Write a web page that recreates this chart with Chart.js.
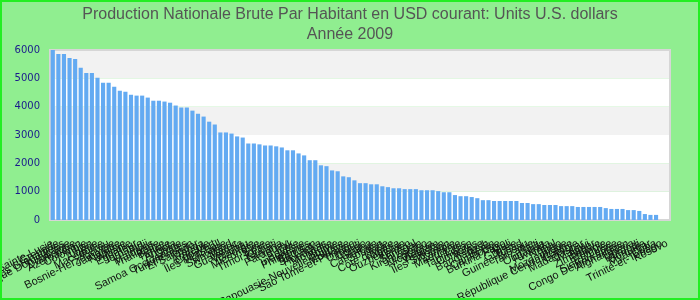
<!DOCTYPE html>
<html>
<head>
<meta charset="utf-8">
<script src="https://cdn.jsdelivr.net/npm/chart.js"></script>
<style>
    html, body { margin: 0; padding: 0; }
    .chart-box {
        width: 700px;
        height: 300px;
        box-sizing: border-box;
        border: 2px solid #22ee22;
        background: #90ee90;
        position: relative;
    }
</style>
</head>
<body>
<div class="chart-box"><canvas id="gnpChart"></canvas></div>
<script>
// Pays (triés par valeur décroissante)
const countries = [
    'Sainte-Lucie', 'Grenade', 'Saint-Vincent-et-les Grenadines', 'République Dominicaine', 'Dominique',
    'Azerbaïdjan', 'Colombie', 'Iran', 'Algérie', 'Macédoine',
    'Pérou', 'Bosnie-Herzégovine', 'Jamaïque', 'Namibie', 'Albanie',
    'Équateur', 'Jordanie', 'Fidji', 'Maldives', 'Thaïlande',
    'Belize', 'Tunisie', 'Angola', 'Chine', 'Samoa Occidentales',
    'Turkménistan', 'El Salvador', 'Tonga', 'Arménie', 'Cap-Vert',
    'Îles Marshall', 'Ukraine', 'Swaziland', 'Maroc', 'Guatemala',
    'Vanuatu', 'Géorgie', 'Micronésie', 'Syrie', 'Timor-Leste',
    'Kiribati', 'Guyana', 'Paraguay', 'Irak', 'Égypte',
    'Indonésie', 'Philippines', 'Bhoutan', 'Sri Lanka', 'Honduras',
    'Mongolie', 'Bolivie', 'Papouasie-Nouvelle-Guinée', 'Moldavie', 'Sao Tomé-et-Principe',
    'Djibouti', 'Congo', 'Ghana', 'Cameroun', 'Soudan',
    'Inde', "Côte d'Ivoire", 'Nigéria', 'Ouzbékistan', 'Yémen',
    'Sénégal', 'Kirghizistan', 'Lesotho', 'Nicaragua', 'Vietnam',
    'Pakistan', 'Îles Salomon', 'Zambie', 'Mauritanie', 'Laos',
    'Tadjikistan', 'Comores', 'Kenya', 'Bangladesh', 'Bénin',
    'Cambodge', 'Burkina Faso', 'Mali', 'Guinée', 'Tchad',
    'Guinée-Bissau', 'Tanzanie', 'Haïti', 'Ouganda', 'Rwanda',
    'Népal', 'Togo', 'Mozambique', 'République Centrafricaine', 'Gambie',
    'Madagascar', 'Malawi', 'Niger', 'Zimbabwe', 'Éthiopie',
    'Érythrée', 'Sierra Leone', 'Congo Démocratique', 'Afghanistan', 'Liberia',
    'Burundi', 'Somalie', 'Myanmar', 'Cuba', 'Trinité-et-Tobago',
    'Kosovo'
];

// PNB par habitant, USD courants
const gnpValues = [
    6000, 5860, 5860, 5720, 5680, 5370, 5190, 5190, 5020, 4840,
    4840, 4700, 4560, 4530, 4420, 4390, 4390, 4320, 4210, 4210,
    4180, 4140, 4040, 3970, 3970, 3860, 3750, 3650, 3470, 3370,
    3090, 3090, 3050, 2950, 2910, 2700, 2700, 2670, 2630, 2630,
    2600, 2560, 2460, 2460, 2350, 2280, 2110, 2110, 1930, 1900,
    1750, 1720, 1540, 1510, 1400, 1300, 1300, 1260, 1260, 1190,
    1160, 1120, 1120, 1090, 1090, 1090, 1050, 1050, 1050, 1020,
    980, 980, 880, 840, 840, 810, 770, 700, 700, 670,
    670, 670, 670, 670, 600, 600, 560, 560, 530, 530,
    530, 490, 490, 490, 460, 460, 460, 460, 460, 420,
    390, 390, 390, 350, 350, 320, 210, 180, 180, null,
    null, null
];

const yTicks = [0, 1000, 2000, 3000, 4000, 5000, 6000];

const titleLines = [
    'Production Nationale Brute Par Habitant en USD courant: Units U.S. dollars',
    'Année 2009'
];

// Alternating bands + frame behind the bars
const bandsPlugin = {
    id: 'bands',
    beforeDraw(chart) {
        const { ctx, chartArea: area, scales: { y } } = chart;
        ctx.save();
        for (let i = 0; i < yTicks.length - 1; i++) {
            const top = y.getPixelForValue(yTicks[i + 1]);
            const bottom = y.getPixelForValue(yTicks[i]);
            ctx.fillStyle = (i % 2 === 0) ? '#ffffff' : '#f2f2f2';
            ctx.fillRect(area.left, top, area.right - area.left, bottom - top);
        }
        ctx.strokeStyle = '#d6d6d6';
        ctx.lineWidth = 2;
        ctx.strokeRect(area.left, area.top, area.right - area.left, area.bottom - area.top);
        ctx.restore();
    }
};

document.addEventListener('DOMContentLoaded', function() {
    new Chart(document.getElementById('gnpChart').getContext('2d'), {
        type: 'bar',
        data: {
            labels: countries,
            datasets: [{
                data: gnpValues,
                backgroundColor: '#63aaf2',
                barPercentage: 0.74,
                categoryPercentage: 1
            }]
        },
        options: {
            responsive: true,
            maintainAspectRatio: false,
            animation: false,
            layout: {
                padding: 0
            },
            plugins: {
                legend: { display: false },
                tooltip: { enabled: false },
                title: {
                    display: true,
                    text: titleLines,
                    color: '#555555',
                    font: { family: 'Liberation Sans, Arial, sans-serif', size: 16, weight: 'normal', lineHeight: 1.25 },
                    padding: { top: 3, bottom: 5 }
                }
            },
            scales: {
                x: {
                    grid: { display: false, drawTicks: false },
                    border: { display: false },
                    ticks: {
                        autoSkip: false,
                        minRotation: 26,
                        maxRotation: 26,
                        padding: 17,
                        color: '#111111',
                        font: { family: 'Liberation Sans, Arial, sans-serif', size: 11 }
                    },
                    afterFit: function(scale) {
                        scale.height = 78;
                        scale.paddingLeft = 0;
                        scale.paddingRight = 28;
                    }
                },
                y: {
                    min: 0,
                    max: 6000,
                    grid: { display: false, drawTicks: false },
                    border: { display: false },
                    ticks: {
                        stepSize: 1000,
                        padding: 10,
                        color: '#1a1a8c',
                        font: { family: 'DejaVu Sans, sans-serif', size: 10 },
                        callback: function(value) {
                            return String(value);
                        }
                    },
                    afterFit: function(scale) {
                        scale.width = 48;
                    }
                }
            }
        },
        plugins: [bandsPlugin]
    });
});
</script>
</body>
</html>
